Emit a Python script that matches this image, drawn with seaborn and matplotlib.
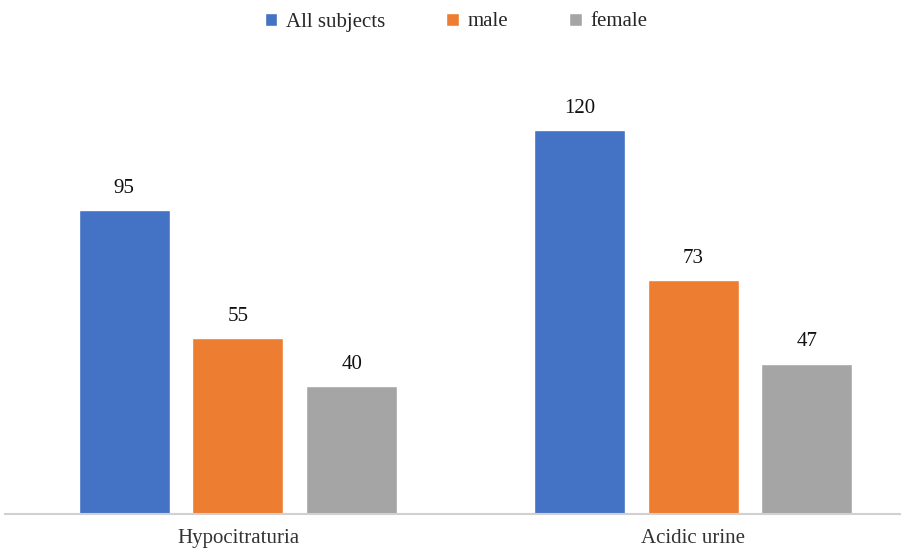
import matplotlib
matplotlib.use("Agg")
import matplotlib.pyplot as plt
import seaborn as sns
import pandas as pd

categories = ["Hypocitraturia", "Acidic urine"]
groups = ["All subjects", "male", "female"]
all_subjects = [95, 120]
male = [55, 73]
female = [40, 47]
colors = ["#4472C4", "#ED7D31", "#A5A5A5"]

rows = []
for g, vals in zip(groups, [all_subjects, male, female]):
    for c, v in zip(categories, vals):
        rows.append({"category": c, "group": g, "value": v})
df = pd.DataFrame(rows)

sns.set_theme(style="white")
plt.rcParams["font.family"] = ["Liberation Serif", "DejaVu Serif"]

fig = plt.figure(figsize=(9.01, 5.49), dpi=100)
ax = fig.add_axes([5/901, 35/549, 896/901, 454/549])
sns.barplot(data=df, x="category", y="value", hue="group", order=categories,
            hue_order=groups, palette=colors, saturation=1, width=0.75, gap=0.2,
            ax=ax, legend=True)
for cont in ax.containers:
    ax.bar_label(cont, padding=9, fontsize=15, color="#111111")

ax.set_xlim(-0.512, 1.457)
ax.set_ylim(0, 141.9)
ax.set_xlabel("")
ax.set_ylabel("")
ax.set_yticks([])
for s in ["top", "right", "left"]:
    ax.spines[s].set_visible(False)
ax.spines["bottom"].set_color("#D0D0D0")
ax.spines["bottom"].set_linewidth(1.5)
ax.tick_params(axis="x", length=0, pad=11, labelsize=15, colors="#333333")

handles, labels = ax.get_legend_handles_labels()
ax.legend(handles, labels, loc="center", bbox_to_anchor=(456/901, 1 - 22/549),
          bbox_transform=fig.transFigure, ncol=3, frameon=False, fontsize=15,
          handlelength=0.6, handleheight=0.6, handletextpad=0.4, columnspacing=2.95)

fig.savefig("out.png", dpi=100)
